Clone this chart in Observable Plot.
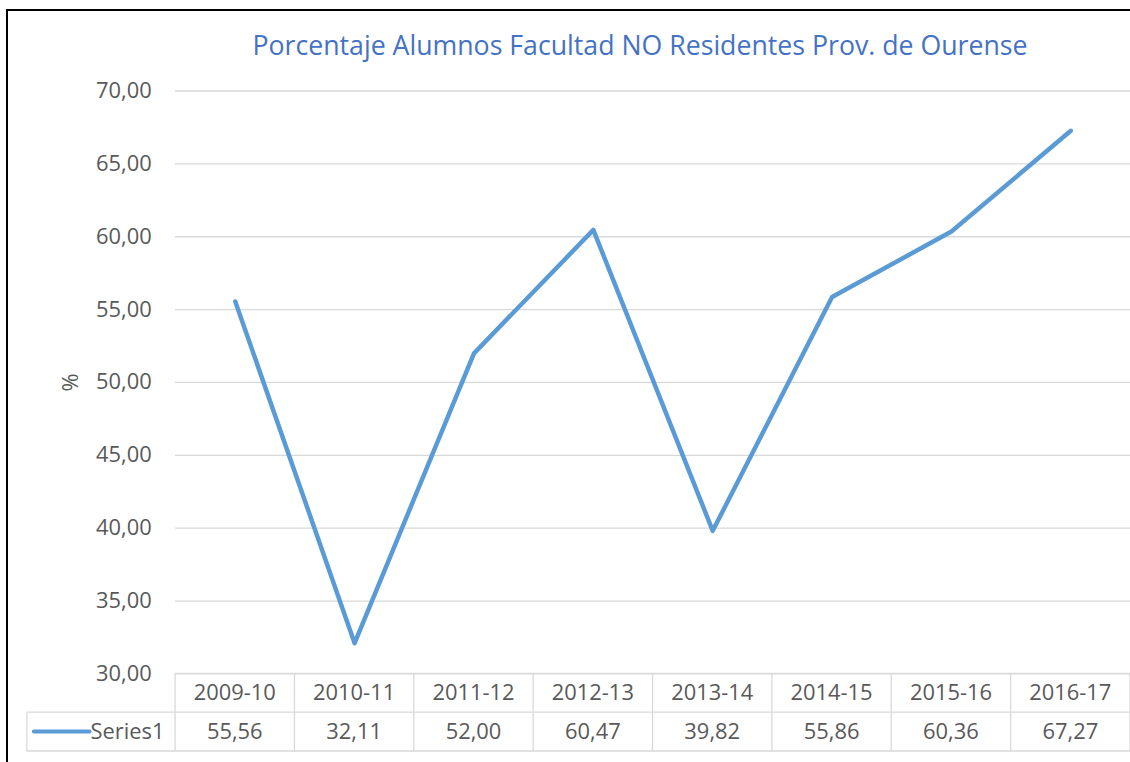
<!DOCTYPE html>
<html><head><meta charset="utf-8">
<script src="https://cdn.jsdelivr.net/npm/d3@7"></script>
<script src="https://cdn.jsdelivr.net/npm/@observablehq/plot@0.6"></script>
<style>
html,body{margin:0;background:#fff;overflow:hidden;}
#wrap{position:relative;width:1130px;height:762px;overflow:hidden;font-family:"Open Sans",sans-serif;}
#frame{position:absolute;left:6px;top:9px;width:1300px;height:900px;border-left:2px solid #000;border-top:2px solid #000;box-sizing:border-box;}
#title{position:absolute;top:27px;left:0;width:1280px;text-align:center;color:#4472C4;font-size:26.7px;line-height:36px;white-space:nowrap;}
#chart{position:absolute;left:0;top:0;width:1130px;height:762px;overflow:hidden;}
</style></head><body>
<div id="wrap"><div id="frame"></div><div id="chart"></div><div id="title">Porcentaje Alumnos Facultad NO Residentes Prov. de Ourense</div></div>
<script>
const years = ["2009-10","2010-11","2011-12","2012-13","2013-14","2014-15","2015-16","2016-17"];
const values = [55.56, 32.11, 52.00, 60.47, 39.82, 55.86, 60.36, 67.27];
const yTicks = [30, 35, 40, 45, 50, 55, 60, 65, 70];
const seriesName = "Series1";
const yLabel = "%";

const data = years.map((year, i) => ({year, value: values[i]}));
const fmt = v => v.toFixed(2).replace(".", ",");
const lineColor = "#5B9BD5";
const textColor = "#595959";
const gridColor = "#d9d9d9";
const fs = 22;

const plot = Plot.plot({
  width: 1136, height: 762,
  marginLeft: 176, marginRight: 0, marginTop: 91, marginBottom: 85,
  style: {fontFamily: "'Open Sans', sans-serif", fontSize: fs + "px", color: textColor, background: "transparent", overflow: "visible"},
  x: {type: "point", domain: years, padding: 0.5, axis: null},
  y: {domain: [30, 70]},
  marks: [
    Plot.gridY(yTicks, {stroke: gridColor, strokeOpacity: 1, strokeWidth: 1.3}),
    Plot.axisY(yTicks, {tickSize: 0, tickPadding: 24, tickFormat: fmt, label: yLabel, labelAnchor: "center", labelOffset: 114, labelArrow: "none", fill: textColor, fontSize: fs}),
    Plot.line(data, {x: "year", y: "value", stroke: lineColor, strokeWidth: 4.5, strokeLinecap: "round", strokeLinejoin: "round"})
  ]
});
document.getElementById("chart").appendChild(plot);

// data table under the plot, aligned with Plot's x scale
const xs = plot.scale("x"), ys = plot.scale("y");
const step = xs.apply(years[1]) - xs.apply(years[0]);
const top0 = ys.apply(30);
const rowH = 39;
const left0 = 27;
const xStart = xs.apply(years[0]) - step / 2;
const xEnd = xs.apply(years[years.length - 1]) + step / 2;
const svg = d3.select(plot);
const g = svg.append("g").attr("font-family", "'Open Sans', sans-serif").attr("font-size", fs).attr("fill", textColor);
const hl = [[xStart, top0], [left0, top0 + rowH], [left0, top0 + 2 * rowH]];
hl.forEach(([x0, y]) => g.append("line").attr("x1", x0).attr("x2", xEnd).attr("y1", y).attr("y2", y).attr("stroke", gridColor).attr("stroke-width", 1.3));
g.append("line").attr("x1", left0).attr("x2", left0).attr("y1", top0 + rowH).attr("y2", top0 + 2 * rowH).attr("stroke", gridColor).attr("stroke-width", 1.3);
years.forEach((yr, i) => {
  const cx = xs.apply(yr);
  g.append("line").attr("x1", cx - step / 2).attr("x2", cx - step / 2).attr("y1", top0).attr("y2", top0 + 2 * rowH).attr("stroke", gridColor).attr("stroke-width", 1.3);
  g.append("text").attr("x", cx).attr("y", top0 + rowH / 2).attr("text-anchor", "middle").attr("dy", "0.35em").text(yr);
  g.append("text").attr("x", cx).attr("y", top0 + rowH * 1.5).attr("text-anchor", "middle").attr("dy", "0.35em").text(fmt(values[i]));
});
g.append("line").attr("x1", xEnd).attr("x2", xEnd).attr("y1", top0).attr("y2", top0 + 2 * rowH).attr("stroke", gridColor).attr("stroke-width", 1.3);
g.append("line").attr("x1", 34).attr("x2", 90).attr("y1", top0 + rowH * 1.5).attr("y2", top0 + rowH * 1.5).attr("stroke", lineColor).attr("stroke-width", 4).attr("stroke-linecap", "round");
g.append("text").attr("x", 91).attr("y", top0 + rowH * 1.5).attr("dy", "0.35em").attr("text-anchor", "start").text(seriesName);
</script>
</body></html>
